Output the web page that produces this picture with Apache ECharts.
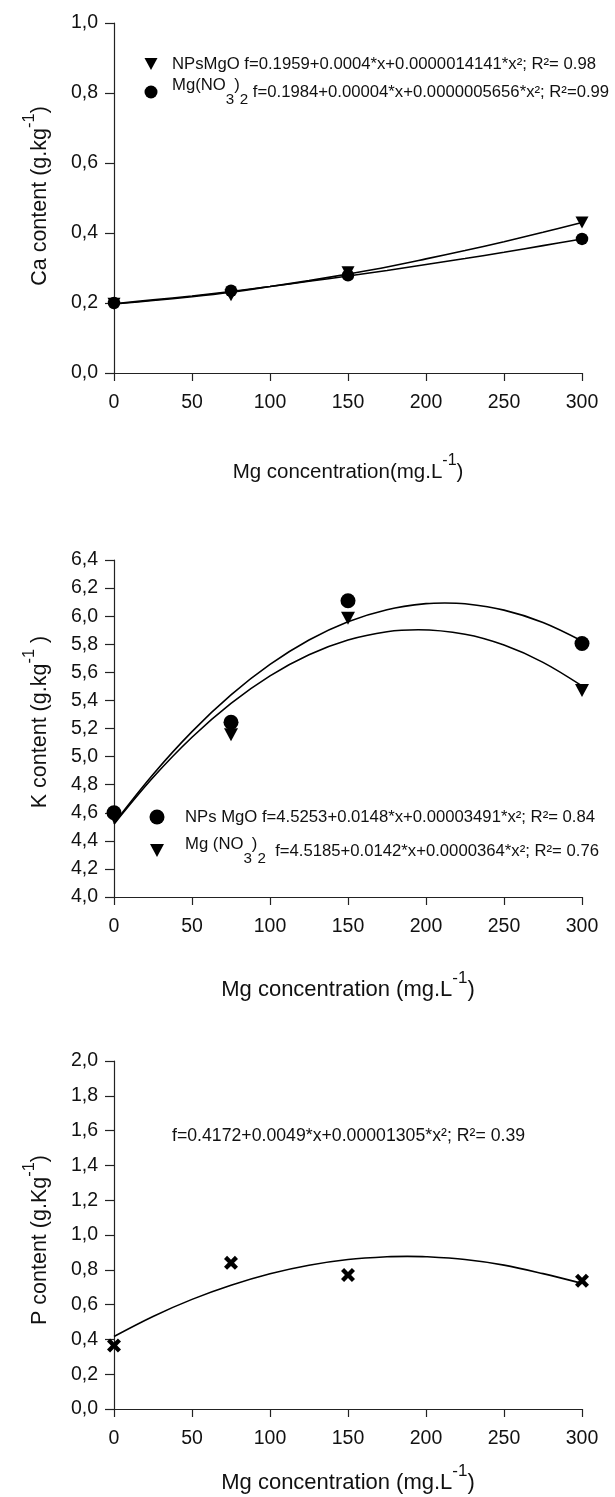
<!DOCTYPE html>
<html><head><meta charset="utf-8">
<script src="https://cdn.jsdelivr.net/npm/echarts@6/dist/echarts.min.js"></script>
<style>html,body{margin:0;padding:0;background:#fff}#c{width:615px;height:1497px}</style>
</head><body><div id="c"></div>
<script>
// ---------- data ----------
const doses = [0, 75, 150, 300];
const xTicks = ['0', '50', '100', '150', '200', '250', '300'];

// Ca content
const caNPsMgO = [0.198, 0.222, 0.288, 0.430];
const caMgNO3 = [0.200, 0.235, 0.279, 0.383];
const caFitX = [0, 25, 50, 75, 100, 125, 150, 175, 200, 225, 250, 275, 300];
const caFitNPsMgO = [0.197, 0.207, 0.218, 0.231, 0.247, 0.264, 0.283, 0.303, 0.326, 0.350, 0.375, 0.402, 0.430];
const caFitMgNO3 = [0.198, 0.209, 0.220, 0.233, 0.247, 0.262, 0.277, 0.293, 0.310, 0.327, 0.345, 0.364, 0.383];
const caTicks = ['0,0', '0,2', '0,4', '0,6', '0,8', '1,0'];

// K content
const kNPsMgO = [4.60, 5.245, 6.11, 5.805];
const kMgNO3 = [4.57, 5.155, 5.985, 5.47];
const kFitXNPsMgO = [0, 25, 50, 75, 100, 125, 150, 175, 200, 212, 225, 250, 275, 300];
const kFitNPsMgO = [4.525, 4.873, 5.178, 5.439, 5.656, 5.830, 5.960, 6.046, 6.089, 6.094, 6.088, 6.043, 5.955, 5.823];
const kFitXMgNO3 = [0, 25, 50, 75, 100, 125, 150, 175, 195, 225, 250, 275, 300];
const kFitMgNO3 = [4.519, 4.851, 5.138, 5.379, 5.575, 5.725, 5.830, 5.889, 5.903, 5.871, 5.794, 5.671, 5.503];
const kTicks = ['4,0', '4,2', '4,4', '4,6', '4,8', '5,0', '5,2', '5,4', '5,6', '5,8', '6,0', '6,2', '6,4'];

// P content
const pMean = [0.365, 0.84, 0.77, 0.737];
const pFitX = [0, 25, 50, 75, 100, 125, 150, 175, 188, 200, 225, 250, 275, 300];
const pFit = [0.417, 0.532, 0.630, 0.711, 0.777, 0.826, 0.859, 0.875, 0.877, 0.875, 0.859, 0.827, 0.778, 0.722];
const pTicks = ['0,0', '0,2', '0,4', '0,6', '0,8', '1,0', '1,2', '1,4', '1,6', '1,8', '2,0'];

// ---------- styling ----------
const FF = "'Liberation Sans', Arial, Helvetica, sans-serif";
const AX = '#222';
const TRI = 'path://M0,0L10,0L5,9Z';
const XMARK = 'path://M0,2.2L2.2,0L5,2.8L7.8,0L10,2.2L7.2,5L10,7.8L7.8,10L5,7.2L2.2,10L0,7.8L2.8,5Z';

const chart = echarts.init(document.getElementById('c'), null, {renderer: 'canvas'});

function xAxis(gi) {
  return {
    type: 'value', gridIndex: gi, min: 0, max: 300, interval: 50,
    axisLine: {show: true, onZero: false, lineStyle: {color: AX, width: 1.2}},
    axisTick: {show: true, inside: false, length: 8, lineStyle: {color: AX, width: 1.2}},
    axisLabel: {show: true, margin: 20, fontSize: 19.5, color: '#111', fontFamily: FF,
      showMinLabel: true, showMaxLabel: true,
      formatter: v => xTicks[Math.round(v / 50)]},
    splitLine: {show: false}
  };
}
function yAxis(gi, min, max, ticks) {
  return {
    type: 'value', gridIndex: gi, min: min, max: max, interval: 0.2,
    axisLine: {show: true, onZero: false, lineStyle: {color: AX, width: 1.2}},
    axisTick: {show: true, inside: false, length: 9, lineStyle: {color: AX, width: 1.2}},
    axisLabel: {show: true, margin: 16, fontSize: 19.5, color: '#111', fontFamily: FF,
      showMinLabel: true, showMaxLabel: true,
      formatter: v => ticks[Math.round((v - min) / 0.2)]},
    splitLine: {show: false}
  };
}
function pts(xs, ys) { return xs.map((x, i) => [x, ys[i]]); }
function scatter(name, gi, ys, symbol, size) {
  return {name: name, type: 'scatter', xAxisIndex: gi, yAxisIndex: gi, data: pts(doses, ys),
    symbol: symbol, symbolSize: size, itemStyle: {color: '#000', opacity: 1}, z: 4};
}
function curve(name, gi, xs, ys) {
  return {name: name, type: 'line', xAxisIndex: gi, yAxisIndex: gi, data: pts(xs, ys),
    smooth: 0.35, showSymbol: false, symbol: 'none',
    lineStyle: {color: '#000', width: 1.6}, z: 3};
}

const supRich = (big, sup) => ({
  a: {fontSize: big, fontFamily: FF, fill: '#111', color: '#111', verticalAlign: 'bottom', padding: [9, 0, 0, 0]},
  s: {fontSize: sup, fontFamily: FF, fill: '#111', color: '#111', verticalAlign: 'top'}
});
function title(x, y, text, size, sup, rot) {
  return {type: 'text', x: x, y: y, rotation: rot ? Math.PI / 2 : 0,
    style: {text: text, rich: supRich(size, sup), align: 'center', verticalAlign: 'middle', fill: '#111'}};
}
function line(x, y, text, size) {
  return {type: 'text', x: x, y: y,
    style: {text: text, fontSize: size, fontFamily: FF, fill: '#111', align: 'left', verticalAlign: 'middle'}};
}
const subRich = (size) => ({
  n: {fontSize: size, fontFamily: FF, fill: '#111', verticalAlign: 'top'},
  b: {fontSize: size - 1.5, fontFamily: FF, fill: '#111', verticalAlign: 'bottom'},
  m: {fontSize: size, fontFamily: FF, fill: '#111', lineHeight: 30, verticalAlign: 'middle'}
});
function subLine(x, y, text, size) {
  return {type: 'text', x: x, y: y,
    style: {text: text, rich: subRich(size), align: 'left', verticalAlign: 'middle', fill: '#111'}};
}

const option = {
  animation: false,
  backgroundColor: '#fff',
  grid: [
    {left: 114, top: 23, width: 468, height: 350, containLabel: false, outerBoundsMode: 'none'},
    {left: 114, top: 560, width: 468, height: 337, containLabel: false, outerBoundsMode: 'none'},
    {left: 114, top: 1061, width: 468, height: 348, containLabel: false, outerBoundsMode: 'none'}
  ],
  xAxis: [xAxis(0), xAxis(1), xAxis(2)],
  yAxis: [yAxis(0, 0, 1.0, caTicks), yAxis(1, 4.0, 6.4, kTicks), yAxis(2, 0, 2.0, pTicks)],
  series: [
    curve('Ca fit NPsMgO', 0, caFitX, caFitNPsMgO),
    curve('Ca fit Mg(NO3)2', 0, caFitX, caFitMgNO3),
    scatter('NPsMgO', 0, caNPsMgO, TRI, [13, 12]),
    scatter('Mg(NO3)2', 0, caMgNO3, 'circle', 12.5),
    curve('K fit NPs MgO', 1, kFitXNPsMgO, kFitNPsMgO),
    curve('K fit Mg (NO3)2', 1, kFitXMgNO3, kFitMgNO3),
    scatter('Mg (NO3)2', 1, kMgNO3, TRI, [14, 13]),
    scatter('NPs MgO', 1, kNPsMgO, 'circle', 15),
    curve('P fit', 2, pFitX, pFit),
    scatter('P content', 2, pMean, XMARK, 14)
  ],
  graphic: [
    // top legend
    {type: 'polygon', shape: {points: [[144.5, 58], [157.5, 58], [151, 70]]}, style: {fill: '#000'}},
    {type: 'circle', shape: {cx: 151, cy: 92, r: 6.5}, style: {fill: '#000'}},
    line(172, 64, 'NPsMgO f=0.1959+0.0004*x+0.0000014141*x²; R²= 0.98', 16.7),
    subLine(172, 92, '{n|Mg(NO}{b|3}{n|)}{b|2}{m| f=0.1984+0.00004*x+0.0000005656*x²; R²=0.99}', 16.7),
    // middle legend
    {type: 'circle', shape: {cx: 157, cy: 817, r: 7.5}, style: {fill: '#000'}},
    {type: 'polygon', shape: {points: [[150, 844], [164, 844], [157, 857]]}, style: {fill: '#000'}},
    line(185, 817, 'NPs MgO f=4.5253+0.0148*x+0.00003491*x²; R²= 0.84', 16.7),
    subLine(185, 851, '{n|Mg (NO}{b|3}{n|)}{b|2}{m|  f=4.5185+0.0142*x+0.0000364*x²; R²= 0.76}', 16.7),
    // bottom equation
    line(172, 1136, 'f=0.4172+0.0049*x+0.00001305*x²; R²= 0.39', 17.7),
    // axis titles
    title(348, 468, '{a|Mg concentration(mg.L}{s|-1}{a|)}', 20.5, 16, false),
    title(348, 985, '{a|Mg concentration (mg.L}{s|-1}{a|)}', 22, 17, false),
    title(348, 1478, '{a|Mg concentration (mg.L}{s|-1}{a|)}', 22, 17, false),
    title(36, 196, '{a|Ca content (g.kg}{s|-1}{a|)}', 21.5, 16.5, true),
    title(36, 722, '{a|K content (g.kg}{s|-1}{a| )}', 21.5, 16.5, true),
    title(36, 1240, '{a|P content (g.Kg}{s|-1}{a|)}', 21.5, 16.5, true)
  ]
};
chart.setOption(option);
</script></body></html>
